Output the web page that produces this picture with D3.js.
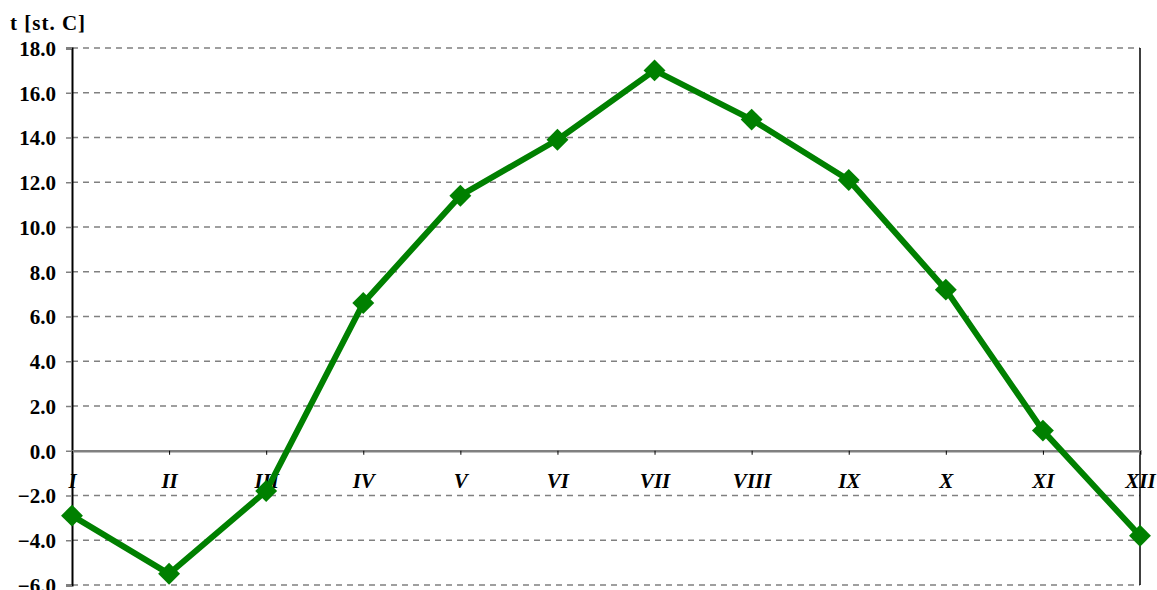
<!DOCTYPE html>
<html>
<head>
<meta charset="utf-8">
<script src="https://cdn.jsdelivr.net/npm/d3@7"></script>
<style>
  body { margin: 0; background: #fff; }
  text { font-family: "Liberation Serif", "Times New Roman", serif; font-weight: bold; fill: #000; }
</style>
</head>
<body>
<div id="chart"></div>
<script>
// monthly mean temperature
var months = ["I", "II", "III", "IV", "V", "VI", "VII", "VIII", "IX", "X", "XI", "XII"];
var temps = [-2.9, -5.5, -1.8, 6.6, 11.4, 13.9, 17.0, 14.8, 12.1, 7.2, 0.9, -3.8];
var yTicks = [-6, -4, -2, 0, 2, 4, 6, 8, 10, 12, 14, 16, 18];

var width = 1157, height = 590;
var plotLeft = 72, plotRight = 1140, plotTop = 48, plotBottom = 585;

var svg = d3.select("#chart").append("svg").attr("width", width).attr("height", height);

var x = d3.scalePoint().domain(months).range([plotLeft, plotRight]);
var y = d3.scaleLinear().domain([-6, 18]).range([plotBottom, plotTop]);

// grid lines
svg.append("g").selectAll("line").data(yTicks.filter(function (d) { return d !== 0; })).enter()
  .append("line")
  .attr("x1", plotLeft).attr("x2", plotRight)
  .attr("y1", function (d) { return y(d); }).attr("y2", function (d) { return y(d); })
  .attr("stroke", "#808080").attr("stroke-width", 1.5)
  .attr("stroke-dasharray", "6,5");

// right border
svg.append("line").attr("x1", plotRight).attr("x2", plotRight).attr("y1", plotTop).attr("y2", plotBottom)
  .attr("stroke", "#000").attr("stroke-width", 1.5);

// y axis
var yAxis = d3.axisLeft(y).tickValues(yTicks).tickSize(6).tickPadding(10)
  .tickFormat(function (d) { return d3.format(".1f")(d); });
var gy = svg.append("g").attr("transform", "translate(" + plotLeft + ",0)").call(yAxis);
gy.select(".domain").attr("stroke", "#000").attr("stroke-width", 2);
gy.selectAll(".tick line").attr("stroke", "#808080").attr("stroke-width", 1.5);
gy.selectAll(".tick text").style("font-size", "21px").attr("dy", "0.35em");

// category axis at zero
var xAxis = d3.axisBottom(x).tickSize(4).tickPadding(18);
var gx = svg.append("g").attr("transform", "translate(0," + y(0) + ")").call(xAxis);
gx.select(".domain").attr("stroke", "#808080").attr("stroke-width", 2.5);
gx.selectAll(".tick line").attr("stroke", "#000").attr("stroke-width", 1);
gx.selectAll(".tick text").style("font-size", "21px").style("font-style", "italic");

// series
var line = d3.line().x(function (d, i) { return x(months[i]); }).y(function (d) { return y(d); });
svg.append("path").datum(temps).attr("d", line)
  .attr("fill", "none").attr("stroke", "#008000").attr("stroke-width", 6)
  .attr("stroke-linejoin", "round");

var diamond = d3.symbol().type(d3.symbolSquare).size(240);
svg.append("g").selectAll("path").data(temps).enter()
  .append("path")
  .attr("d", diamond)
  .attr("transform", function (d, i) { return "translate(" + x(months[i]) + "," + y(d) + ") rotate(45)"; })
  .attr("fill", "#008000");

// axis title
svg.append("text").attr("x", 10).attr("y", 30).style("font-size", "21px")
  .style("letter-spacing", "1px").text("t [st. C]");
</script>
</body>
</html>
